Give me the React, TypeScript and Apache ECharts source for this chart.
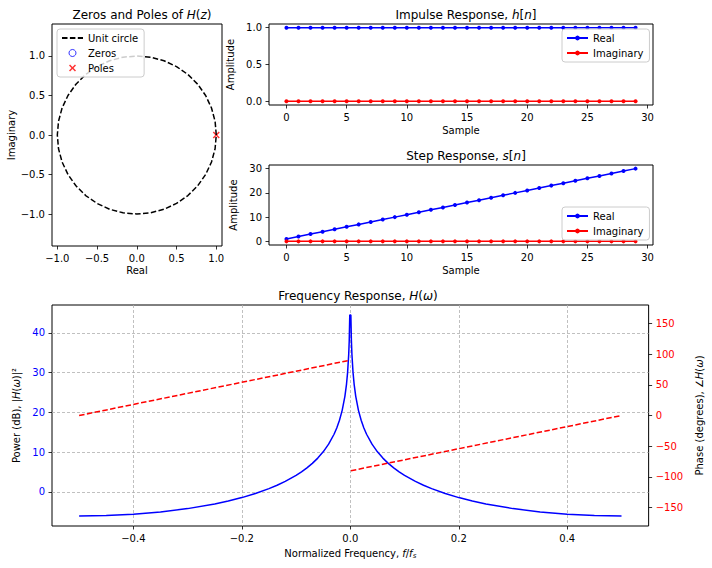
import React, { useEffect, useRef } from 'react';
import * as echarts from 'echarts';

// ---- Zeros / poles panel ----
const circleX = [1, 0.985, 0.94, 0.866, 0.766, 0.643, 0.5, 0.342, 0.174, 0, -0.174, -0.342, -0.5, -0.643, -0.766, -0.866, -0.94, -0.985, -1, -0.985, -0.94, -0.866, -0.766, -0.643, -0.5, -0.342, -0.174, 0, 0.174, 0.342, 0.5, 0.643, 0.766, 0.866, 0.94, 0.985, 1];
const circleY = [0, 0.174, 0.342, 0.5, 0.643, 0.766, 0.866, 0.94, 0.985, 1, 0.985, 0.94, 0.866, 0.766, 0.643, 0.5, 0.342, 0.174, 0, -0.174, -0.342, -0.5, -0.643, -0.766, -0.866, -0.94, -0.985, -1, -0.985, -0.94, -0.866, -0.766, -0.643, -0.5, -0.342, -0.174, 0];
const zerosRe: number[] = [];
const zerosIm: number[] = [];
const polesRe = [1];
const polesIm = [0];

// ---- Impulse / step responses ----
const samples = [0, 1, 2, 3, 4, 5, 6, 7, 8, 9, 10, 11, 12, 13, 14, 15, 16, 17, 18, 19, 20, 21, 22, 23, 24, 25, 26, 27, 28, 29];
const impulseReal = [1, 1, 1, 1, 1, 1, 1, 1, 1, 1, 1, 1, 1, 1, 1, 1, 1, 1, 1, 1, 1, 1, 1, 1, 1, 1, 1, 1, 1, 1];
const impulseImag = [0, 0, 0, 0, 0, 0, 0, 0, 0, 0, 0, 0, 0, 0, 0, 0, 0, 0, 0, 0, 0, 0, 0, 0, 0, 0, 0, 0, 0, 0];
const stepReal = [1, 2, 3, 4, 5, 6, 7, 8, 9, 10, 11, 12, 13, 14, 15, 16, 17, 18, 19, 20, 21, 22, 23, 24, 25, 26, 27, 28, 29, 30];
const stepImag = [0, 0, 0, 0, 0, 0, 0, 0, 0, 0, 0, 0, 0, 0, 0, 0, 0, 0, 0, 0, 0, 0, 0, 0, 0, 0, 0, 0, 0, 0];

// ---- Frequency response ----
const freqs = [
  -0.5, -0.45, -0.4, -0.35, -0.3, -0.25, -0.225, -0.2, -0.175, -0.15, -0.135, -0.12, -0.1, -0.09, -0.08, -0.07, -0.06, -0.05, -0.04, -0.03, -0.025, -0.02, -0.015, -0.01, -0.007, -0.005, -0.003, -0.002, -0.001,
  0.001, 0.002, 0.003, 0.005, 0.007, 0.01, 0.015, 0.02, 0.025, 0.03, 0.04, 0.05, 0.06, 0.07, 0.08, 0.09, 0.1, 0.12, 0.135, 0.15, 0.175, 0.2, 0.225, 0.25, 0.3, 0.35, 0.4, 0.45, 0.5,
];
const powerDb = [
  -6.02, -5.91, -5.58, -5.02, -4.18, -3.01, -2.27, -1.41, -0.38, 0.84, 1.69, 2.66, 4.18, 5.07, 6.07, 7.2, 8.52, 10.09, 12.02, 14.51, 16.09, 18.02, 20.52, 24.04, 27.13, 30.06, 34.49, 38.02, 44.5,
  44.5, 38.02, 34.49, 30.06, 27.13, 24.04, 20.52, 18.02, 16.09, 14.51, 12.02, 10.09, 8.52, 7.2, 6.07, 5.07, 4.18, 2.66, 1.69, 0.84, -0.38, -1.41, -2.27, -3.01, -4.18, -5.02, -5.58, -5.91, -6.02,
];
const phaseFreqNeg = [-0.5, -0.001];
const phaseNeg = [0, 90];
const phaseFreqPos = [0.001, 0.5];
const phasePos = [-90, 0];

// ---- Tick values ----
const zpTicks = [-1, -0.5, 0, 0.5, 1];
const sampleTicks = [0, 5, 10, 15, 20, 25, 30];
const impulseTicks = [0, 0.5, 1];
const stepTicks = [0, 10, 20, 30];
const freqTicks = [-0.4, -0.2, 0, 0.2, 0.4];
const powerTicks = [0, 10, 20, 30, 40];
const phaseTicks = [-150, -100, -50, 0, 50, 100, 150];

const FONT = 'DejaVu Sans';
const BLUE = '#0000ff';
const RED = '#ff0000';

const fmt1 = (v: number) => v.toFixed(1).replace('-', '\u2212');
const fmt0 = (v: number) => String(Math.round(v)).replace('-', '\u2212');

const pairs = (xs: number[], ys: number[]) => xs.map((x, i) => [x, ys[i]]);

const italicRich = {
  i: { fontStyle: 'italic', fontFamily: FONT, fontSize: 12, color: '#000' },
};
const labelRich = {
  i: { fontStyle: 'italic', fontFamily: FONT, fontSize: 10, color: '#000' },
  sub: { fontStyle: 'italic', fontFamily: FONT, fontSize: 7, color: '#000', padding: [5, 0, 0, 0] },
};

function valAxis(gridIndex: number, min: number, max: number, ticks: number[], fmt: (v: number) => string, extra: any = {}) {
  const labelColor = extra.labelColor || '#000';
  const base: any = {
    type: 'value',
    gridIndex,
    min,
    max,
    axisLine: { show: false, onZero: false },
    axisTick: { show: true, length: 3.5, customValues: ticks, lineStyle: { color: '#000', width: 0.8 } },
    axisLabel: { customValues: ticks, formatter: fmt, color: labelColor, fontSize: 10, fontFamily: FONT, margin: 7 },
    splitLine: { show: false },
    nameLocation: 'middle',
    nameTextStyle: { color: '#000', fontSize: 10, fontFamily: FONT, rich: labelRich },
  };
  const { labelColor: _lc, ...rest } = extra;
  return { ...base, ...rest };
}

const xSymbol = 'path://M0,1.5L1.5,0L5,3.5L8.5,0L10,1.5L6.5,5L10,8.5L8.5,10L5,6.5L1.5,10L0,8.5L3.5,5Z';

const legendBase = {
  orient: 'vertical',
  backgroundColor: 'rgba(255,255,255,0.8)',
  borderColor: '#cccccc',
  borderWidth: 1,
  borderRadius: 3,
  padding: [3, 6, 3, 4],
  itemGap: 3,
  itemWidth: 21,
  textStyle: { color: '#000', fontSize: 10, fontFamily: FONT, lineHeight: 12 },
  selectedMode: false,
};

const titleStyle = { fontSize: 12, fontWeight: 'normal', color: '#000', fontFamily: FONT, rich: italicRich };

export default function App() {
  const ref = useRef<HTMLDivElement>(null);
  useEffect(() => {
    document.body.style.margin = '0';
    if (!ref.current) return;
    const chart = echarts.init(ref.current, undefined, { renderer: 'svg' });
    const gridStyle = { show: true, borderColor: '#000', borderWidth: 1, backgroundColor: 'transparent', containLabel: false };
    const option: any = {
      animation: false,
      backgroundColor: '#ffffff',
      textStyle: { fontFamily: FONT },
      title: [
        { text: 'Zeros and Poles of {i|H}({i|z})', left: 137, top: 4, textAlign: 'center', textStyle: titleStyle },
        { text: 'Impulse Response, {i|h}[{i|n}]', left: 461, top: 4, textAlign: 'center', textStyle: titleStyle },
        { text: 'Step Response, {i|s}[{i|n}]', left: 461, top: 145, textAlign: 'center', textStyle: titleStyle },
        { text: 'Frequency Response, {i|H}({i|\u03c9})', left: 353, top: 285, textAlign: 'center', textStyle: titleStyle },
      ],
      grid: [
        { ...gridStyle, left: 52, top: 24, width: 170, height: 222 },
        { ...gridStyle, left: 269, top: 24, width: 384, height: 81 },
        { ...gridStyle, left: 269, top: 165, width: 384, height: 80 },
        { ...gridStyle, left: 52, top: 305, width: 601, height: 221 },
      ],
      xAxis: [
        valAxis(0, -1.067, 1.072, zpTicks, fmt1, { name: 'Real', nameGap: 19 }),
        valAxis(1, -1.45, 30.45, sampleTicks, fmt0, { name: 'Sample', nameGap: 20 }),
        valAxis(2, -1.45, 30.45, sampleTicks, fmt0, { name: 'Sample', nameGap: 20 }),
        valAxis(3, -0.55, 0.55, freqTicks, fmt1, {
          name: 'Normalized Frequency, {i|f}/{i|f}{sub|s}',
          nameGap: 21,
          splitLine: { show: true, lineStyle: { color: '#b0b0b0', width: 0.8, type: [3, 2] } },
        }),
      ],
      yAxis: [
        valAxis(0, -1.405, 1.405, zpTicks, fmt1, { name: 'Imaginary', nameGap: 34 }),
        valAxis(1, -0.05, 1.05, impulseTicks, fmt1, { name: 'Amplitude', nameGap: 28 }),
        valAxis(2, -1.5, 31.5, stepTicks, fmt0, { name: 'Amplitude', nameGap: 24 }),
        valAxis(3, -8.55, 47.0, powerTicks, fmt0, {
          name: 'Power (dB), |{i|H}({i|\u03c9})|\u00b2',
          nameGap: 25,
          labelColor: BLUE,
          splitLine: { show: true, lineStyle: { color: '#b0b0b0', width: 0.8, type: [3, 2] } },
        }),
        valAxis(3, -180, 180, phaseTicks, fmt0, {
          position: 'right',
          name: 'Phase (degrees), \u2220{i|H}({i|\u03c9})',
          nameGap: 39,
          labelColor: RED,
        }),
      ],
      legend: [
        {
          ...legendBase,
          left: 57,
          top: 29,
          itemHeight: 7,
          data: [
            { name: 'Unit circle', itemStyle: { opacity: 0, color: 'rgba(0,0,0,0)', borderWidth: 0 } },
            { name: 'Zeros', icon: 'circle', itemStyle: { color: '#ffffff', borderColor: BLUE, borderWidth: 1 } },
            { name: 'Poles', icon: xSymbol },
          ],
        },
        { ...legendBase, left: 562, top: 29, itemHeight: 6, data: ['Real', 'Imaginary'] },
        { ...legendBase, left: 562, top: 207, itemHeight: 6, data: ['Real', 'Imaginary'] },
      ],
      series: [
        {
          name: 'Unit circle', type: 'line', xAxisIndex: 0, yAxisIndex: 0, data: pairs(circleX, circleY),
          symbol: 'none', lineStyle: { color: '#000', width: 1.5, type: [5.5, 2.4] }, itemStyle: { color: '#000' }, silent: true,
        },
        {
          name: 'Zeros', type: 'scatter', xAxisIndex: 0, yAxisIndex: 0, data: pairs(zerosRe, zerosIm),
          symbol: 'circle', symbolSize: 7, itemStyle: { color: '#ffffff', borderColor: BLUE, borderWidth: 1 }, silent: true,
        },
        {
          name: 'Poles', type: 'scatter', xAxisIndex: 0, yAxisIndex: 0, data: pairs(polesRe, polesIm),
          symbol: xSymbol, symbolSize: 7, itemStyle: { color: RED }, silent: true,
        },
        {
          name: 'Real', type: 'line', xAxisIndex: 1, yAxisIndex: 1, data: pairs(samples, impulseReal),
          symbol: 'circle', symbolSize: 4, showSymbol: true, lineStyle: { color: BLUE, width: 1.5 }, itemStyle: { color: BLUE }, silent: true,
        },
        {
          name: 'Imaginary', type: 'line', xAxisIndex: 1, yAxisIndex: 1, data: pairs(samples, impulseImag),
          symbol: 'circle', symbolSize: 4, showSymbol: true, lineStyle: { color: RED, width: 1.5 }, itemStyle: { color: RED }, silent: true,
        },
        {
          name: 'Real', type: 'line', xAxisIndex: 2, yAxisIndex: 2, data: pairs(samples, stepReal),
          symbol: 'circle', symbolSize: 4, showSymbol: true, lineStyle: { color: BLUE, width: 1.5 }, itemStyle: { color: BLUE }, silent: true,
        },
        {
          name: 'Imaginary', type: 'line', xAxisIndex: 2, yAxisIndex: 2, data: pairs(samples, stepImag),
          symbol: 'circle', symbolSize: 4, showSymbol: true, lineStyle: { color: RED, width: 1.5 }, itemStyle: { color: RED }, silent: true,
        },
        {
          name: 'Power', type: 'line', xAxisIndex: 3, yAxisIndex: 3, data: pairs(freqs, powerDb),
          symbol: 'none', lineStyle: { color: BLUE, width: 1.5 }, silent: true,
        },
        {
          name: 'Phase', type: 'line', xAxisIndex: 3, yAxisIndex: 4, data: pairs(phaseFreqNeg, phaseNeg),
          symbol: 'none', lineStyle: { color: RED, width: 1.5, type: [5.5, 2.4] }, silent: true,
        },
        {
          name: 'Phase', type: 'line', xAxisIndex: 3, yAxisIndex: 4, data: pairs(phaseFreqPos, phasePos),
          symbol: 'none', lineStyle: { color: RED, width: 1.5, type: [5.5, 2.4] }, silent: true,
        },
      ],
    };
    chart.setOption(option);
    return () => chart.dispose();
  }, []);
  return <div ref={ref} style={{ width: 712, height: 568 }} />;
}
